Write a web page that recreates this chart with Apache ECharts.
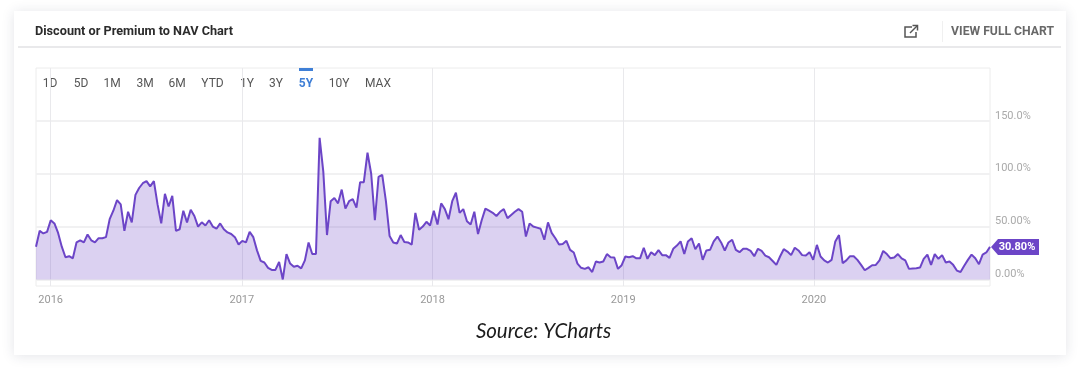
<!DOCTYPE html>
<html>
<head>
<meta charset="utf-8">
<style>html,body{margin:0;padding:0;background:#fff}#c{width:1080px;height:368px}</style>
<script src="https://cdn.jsdelivr.net/npm/echarts@6/dist/echarts.min.js"></script>
</head>
<body>
<div id="c"></div>
<script>
var chartTitle = 'Discount or Premium to NAV Chart';
var sourceText = 'Source: YCharts';
var rangeButtons = ['1D','5D','1M','3M','6M','YTD','1Y','3Y','5Y','10Y','MAX'];
var yearTicks = ['2016-01-01','2017-01-01','2018-01-01','2019-01-01','2020-01-01'];
var yTickValues = [0,50,100,150];
var yTickLabels = ['0.00%','50.00%','100.0%','150.0%'];
var lastLabel = '30.80%';
var firstDate = '2015-12-04';
var lastDate = '2020-12-03';
var values2016 = [31,46,43.5,45,56,53,44,31,21,22,20,35,37,35,42.5,37,35,39,39,40,57,65,75,71,46,64,54,80,86.5,91,93,88,93,71,53,81,69,79,46,47.5,65,54,66,60,50,54,51,56,50,48,53,47.5,44.5,43];
var values2017a = [40,33,36.5,35,45,40,27.5,17.5,16,11,9,9,16.5,0,24,15,12,13,10.5,18,35,24,24,134,102,42,74,77,72,85,67,74,76,68,92,92,120,100,56,97,99,74,41,35,34,42,35.5,35,33,63,47,50,54.5,51];
var values2018 = [65,52,72,66.5,57,74,82,63,66.5,55,52,64,43,56,67,65,63,60,64,66.5,58,61,64,66.5,64,40.6,53,50,49,48,37.5,54,44,39,33,33.5,36.5,28,25.5,15,11,10,11.5,7,17,16,17,24,21,20.7,10,13.5,21.7,21];
var values2019 = [22,20,20,30,19.5,25.8,23,27.7,23,23,20.4,29,32,36,24,36,39,28.6,34,18.5,27.4,28,36,40.6,35,27.4,35,37.5,28,25.8,29,29,27,22,29,27,22.6,21,17.5,13.8,21.7,28.6,26.4,23,30,27.4,23,22.6,25.8,18.5,32.7];
var values2020 = [21.7,18,16,18.5,36,42,15.4,18,22,22,18.5,13.8,8.7,11,13.4,13.7,18,27,24,20,20.7,24,20,18,10,10.3,10.6,11.2,19.5,23.5,13.8,24,19.5,23,16,17,13.8,8.4,7,13,18.5,23.5,20,14.4,23.5,25.5,30.8];

var values = values2016.concat(values2017a, values2018, values2019, values2020);
var t0 = +new Date(firstDate), t1 = +new Date(lastDate);
var seriesData = values.map(function (v, i) {
  return [t0 + (t1 - t0) * i / (values.length - 1), v];
});
var yearTimes = yearTicks.map(function (d) { return +new Date(d); });
var buttonX = [50,81,112,145,177,212.5,247,276,306,339,378];

var ui = 'Roboto, sans-serif';
var iconStyle = {fill:'none',stroke:'#555',lineWidth:1.5};
var graphics = [
  {type:'rect', z:-10, shape:{x:14,y:11,width:1052,height:344}, style:{fill:'#fff', shadowBlur:12, shadowColor:'rgba(40,50,80,0.13)', shadowOffsetY:1}},
  {type:'rect', z:-9, shape:{x:18,y:46,width:1043,height:2}, style:{fill:'#e9e9eb'}},
  {type:'rect', z:-9, shape:{x:942,y:21,width:1,height:21}, style:{fill:'#f0f0f0'}},
  {type:'text', style:{x:35,y:32,text:chartTitle,font:'bold 12.7px '+ui,fill:'#2b2b2b',verticalAlign:'middle'}},
  {type:'text', style:{x:1054,y:32,text:'VIEW FULL CHART',font:'bold 12.2px '+ui,fill:'#686868',align:'right',verticalAlign:'middle'}},
  {type:'polyline', shape:{points:[[912,27],[905,27],[905,37],[916,37],[916,32]]}, style:iconStyle},
  {type:'polyline', shape:{points:[[910,33],[917.5,25.5]]}, style:iconStyle},
  {type:'polyline', shape:{points:[[912.5,25.5],[917.5,25.5],[917.5,30.5]]}, style:iconStyle},
  {type:'text', style:{x:543.5,y:331.5,text:sourceText,font:'italic 20.5px Lato, sans-serif',fill:'#1c1c1c',align:'center',verticalAlign:'middle'}},
  {type:'rect', shape:{x:299,y:68,width:14,height:3}, style:{fill:'#3f7fd6'}}
];
rangeButtons.forEach(function (b, i) {
  var on = b === '5Y';
  graphics.push({type:'text', style:{x:buttonX[i],y:84,text:b,font:(on?'bold ':'')+'12px '+ui,fill:on?'#3f7fd6':'#555',align:'center',verticalAlign:'middle'}});
});

var chart = echarts.init(document.getElementById('c'), null, {renderer:'canvas'});
chart.setOption({
  animation:false,
  backgroundColor:'#fff',
  graphic:graphics,
  grid:{left:36,right:90,top:68,bottom:82,show:true,borderColor:'#ececec',borderWidth:1,backgroundColor:'transparent'},
  xAxis:{
    type:'value', min:t0, max:t1, scale:true,
    axisLine:{show:false},
    axisTick:{show:false, customValues:yearTimes},
    splitLine:{show:true, lineStyle:{color:'#e9e9ec',width:1}},
    axisLabel:{customValues:yearTimes, color:'#999', fontFamily:ui, fontSize:11, margin:9, hideOverlap:false,
      formatter:function (v) { return String(new Date(v).getUTCFullYear()); }}
  },
  yAxis:{
    type:'value', position:'right', min:-6.2, max:200,
    axisLine:{show:false},
    axisTick:{show:false, customValues:yTickValues},
    splitLine:{show:true, lineStyle:{color:'#f1f1f2',width:2}},
    axisLabel:{customValues:yTickValues, color:'#aaa', fontFamily:ui, fontSize:11, margin:5, verticalAlign:'bottom', align:'left', lineHeight:10,
      formatter:function (v) { return yTickLabels[yTickValues.indexOf(v)]; }}
  },
  series:[{
    type:'line', data:seriesData, showSymbol:false, smooth:false,
    lineStyle:{color:'#6c45c7',width:2},
    areaStyle:{color:'rgba(111,70,201,0.25)', opacity:1, origin:0},
    clip:false,
    markPoint:{
      silent:true,
      data:[{coord:seriesData[seriesData.length-1],
        symbol:'path://M0,8 L7,0 L48,0 L48,16 L7,16 Z',
        symbolSize:[48,16], symbolOffset:[25,0],
        itemStyle:{color:'#6c45c7'},
        label:{show:true,position:'inside',offset:[2,0],formatter:lastLabel,color:'#fff',fontFamily:ui,fontWeight:'bold',fontSize:11}
      }]
    }
  }]
});
</script>
</body>
</html>
